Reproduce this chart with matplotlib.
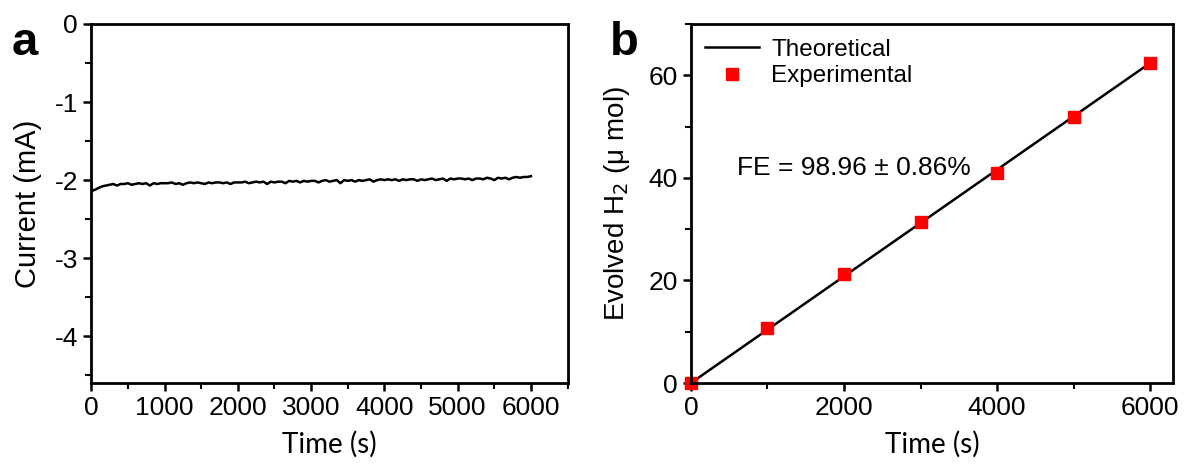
import matplotlib.pyplot as plt
from matplotlib.ticker import MultipleLocator

plt.rcParams['axes.unicode_minus'] = False

# panel a: chronoamperometry
t_early = [0, 5, 15, 30, 60, 100, 150, 200]
i_early = [-2.04, -2.13, -2.14, -2.13, -2.12, -2.10, -2.08, -2.07]
t_main = list(range(250, 6001, 50))
i_main = [
    -2.06, -2.05, -2.07, -2.05, -2.05, -2.04, -2.06, -2.05, -2.04, -2.05, -2.04, -2.07, -2.04, -2.05, -2.04, -2.04,
    -2.04, -2.03, -2.05, -2.04, -2.06, -2.04, -2.03, -2.04, -2.03, -2.04, -2.05, -2.03, -2.04, -2.03, -2.03, -2.04, -2.03, -2.05, -2.03, -2.03,
    -2.03, -2.02, -2.04, -2.03, -2.02, -2.03, -2.02, -2.05, -2.02, -2.03, -2.02, -2.02, -2.04, -2.01, -2.02, -2.01, -2.03, -2.01, -2.02, -2.01,
    -2.01, -2.03, -2.01, -2.00, -2.02, -2.01, -2.00, -2.04, -2.00, -2.01, -2.00, -2.02, -2.00, -2.01, -2.00, -1.99, -2.02, -2.00, -1.99, -2.00,
    -1.99, -2.00, -1.99, -2.01, -1.99, -2.00, -1.99, -1.99, -2.01, -1.99, -2.00, -1.99, -1.98, -2.00, -1.99, -1.98, -2.01, -1.98, -1.99, -1.98,
    -1.98, -1.99, -1.98, -2.00, -1.98, -1.98, -1.99, -1.97, -1.98, -2.00, -1.97, -1.98, -1.97, -1.99, -1.97, -1.96, -1.97, -1.96, -1.96, -1.95,
]
time_a = t_early + t_main
current = i_early + i_main

# panel b: H2 evolution
t_theo = [0, 6000]
h2_theo = [0, 62.4]
t_exp = [0, 1000, 2000, 3000, 4000, 5000, 6000]
h2_exp = [0, 10.7, 21.2, 31.3, 40.9, 51.9, 62.3]

tick_font = 'Liberation Sans'
label_font = 'Lato'

fig = plt.figure(figsize=(11.85, 4.70), dpi=100)
ax1 = fig.add_axes([0.077, 0.185, 0.402, 0.764])
ax2 = fig.add_axes([0.583, 0.185, 0.407, 0.764])

ax1.plot(time_a, current, color='black', lw=1.8)
ax1.set_xlim(0, 6500)
ax1.set_ylim(-4.6, 0)
ax1.xaxis.set_major_locator(MultipleLocator(1000))
ax1.xaxis.set_minor_locator(MultipleLocator(500))
ax1.yaxis.set_major_locator(MultipleLocator(1))
ax1.yaxis.set_minor_locator(MultipleLocator(0.5))
ax1.set_xlabel('Time (s)', family=label_font, fontsize=20, labelpad=8)
ax1.set_ylabel('Current (mA)', family=tick_font, fontsize=21, labelpad=9)

ax2.plot(t_theo, h2_theo, color='black', lw=1.8, label='Theoretical')
ax2.plot(t_exp, h2_exp, 's', color='red', ms=8, label='Experimental', clip_on=False)
ax2.set_xlim(0, 6300)
ax2.set_ylim(0, 70)
ax2.xaxis.set_major_locator(MultipleLocator(2000))
ax2.xaxis.set_minor_locator(MultipleLocator(1000))
ax2.yaxis.set_major_locator(MultipleLocator(20))
ax2.yaxis.set_minor_locator(MultipleLocator(10))
ax2.set_xlabel('Time (s)', family=label_font, fontsize=20, labelpad=8)
ax2.set_ylabel('Evolved H$_2$ (μ mol)', family=tick_font, fontsize=20, labelpad=12)
ax2.text(600, 42, 'FE = 98.96 ± 0.86%', family=tick_font, fontsize=19, va='center')
leg = ax2.legend(loc='upper left', frameon=False, prop={'family': tick_font, 'size': 17.5},
                 handlelength=2.2, handletextpad=0.5, borderaxespad=0.2, labelspacing=0.2)

for ax in (ax1, ax2):
    for s in ax.spines.values():
        s.set_linewidth(2)
    ax.tick_params(which='major', direction='out', length=6, width=1.8, labelsize=19)
    ax.tick_params(which='minor', direction='out', length=4, width=1.5)
    for lab in ax.get_xticklabels() + ax.get_yticklabels():
        lab.set_family(tick_font)

fig.text(0.010, 0.955, 'a', family=tick_font, fontsize=34, fontweight='bold', va='top')
fig.text(0.515, 0.955, 'b', family=tick_font, fontsize=34, fontweight='bold', va='top')

fig.savefig('out.png', dpi=100)
